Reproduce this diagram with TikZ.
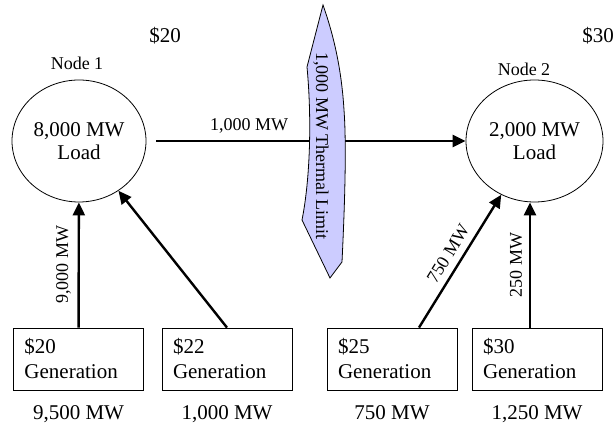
\documentclass[tikz,border=0pt]{standalone}
\usepackage{fontspec}
\setmainfont{Liberation Serif}
\usetikzlibrary{positioning,shapes.geometric,arrows.meta}
\definecolor{limitfill}{RGB}{204,204,255}
\begin{document}
\begin{tikzpicture}[
   x=0.5pt, y=-0.5pt,
   load/.style={ellipse, draw, inner sep=0pt, minimum width=67pt, minimum height=61pt,
      align=center, font=\fontsize{10.5}{11.5}\selectfont},
   gen/.style={rectangle, draw, text width=54pt, inner xsep=5.5pt, minimum height=31pt,
      align=left, font=\fontsize{10.5}{12.5}\selectfont},
   big/.style={font=\fontsize{10.5}{12}\selectfont},
   lbl/.style={font=\fontsize{9}{10}\selectfont},
   arrow/.style={-{Triangle[length=6.5pt,width=6pt]}, line width=1.2pt}
]
\useasboundingbox (0,0) rectangle (616,426);

% Nodes
\node[load] (c1) at (79,141) {8,000 MW\\Load};
\node[load, minimum width=68.5pt] (c2) at (534.5,141) {2,000 MW\\Load};
\node[lbl] (n1) at (77,63) {Node 1};
\node[lbl] (n2) at (524,69) {Node 2};
\node[big] (p1) at (165,36) {\$20};
\node[big] (p2) at (598,36) {\$30};

\node[gen] (g1) at (78.5,359) {\$20\\Generation};
\node[gen] (g2) at (227,359) {\$22\\Generation};
\node[gen] (g3) at (392,359) {\$25\\Generation};
\node[gen] (g4) at (537,359) {\$30\\Generation};
\node[big] (o1) [below=4pt of g1] {9,500 MW};
\node[big] (o2) [below=4pt of g2] {1,000 MW};
\node[big] (o3) [below=4pt of g3] {750 MW};
\node[big] (o4) [below=4pt of g4] {1,250 MW};

\coordinate (g3top) at ([xshift=13.5pt]g3.north);
\coordinate (g4top) at ([xshift=-3.5pt]g4.north);

% Edges
\draw[arrow] ([xshift=5pt]c1.east) -- node[lbl, pos=0.3, above] (f12) {1,000 MW} (c2.west);
\draw[arrow] (g1) -- node[lbl, sloped, above] (f1) {9,000 MW} (c1);
\draw[arrow] (g2.north) -- (c1);
\draw[arrow] (g3top) -- node[lbl, sloped, above] (f3) {750 MW} (c2);
\draw[arrow] (g4top) -- node[lbl, sloped, above] (f4) {250 MW} (g4top |- c2.south);

% Limit
\draw[fill=limitfill] (323,5) -- (307,67) .. controls (312,120) and (310,180) .. (302,220)
   -- (330,278) -- (342,262) .. controls (344,220) and (347,150) .. (344,110)
   .. controls (341,60) and (330,25) .. (323,5) -- cycle;
\node[lbl, rotate=-90] (limit) at (321,146) {1,000 MW Thermal Limit};

\end{tikzpicture}
\end{document}
